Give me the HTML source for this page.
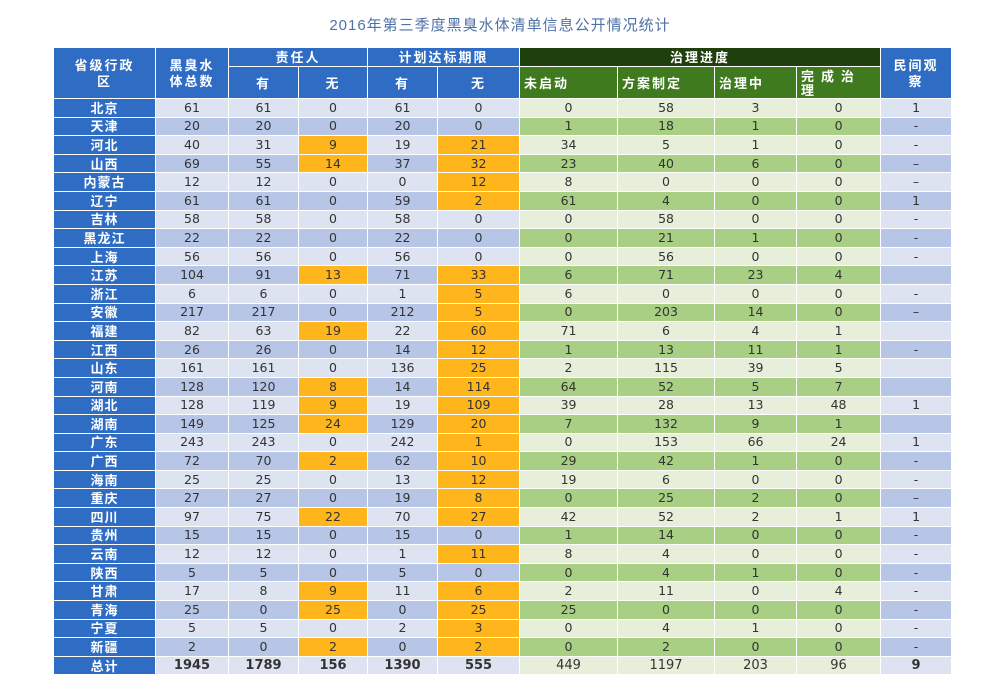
<!DOCTYPE html>
<html><head><meta charset="utf-8">
<style>
body{margin:0;width:1000px;height:700px;background:#fff;overflow:hidden;font-family:"DejaVu Sans","Noto Sans CJK SC",sans-serif;}
.title{position:absolute;left:0;width:1000px;top:14px;text-align:center;font-size:15px;color:#4f72a6;letter-spacing:1px;font-family:"Liberation Sans","Noto Sans CJK SC",sans-serif;}
table{position:absolute;left:53px;top:47px;border-collapse:collapse;table-layout:fixed;width:898px;}
td{border:1px solid #fff;text-align:center;font-size:12.5px;color:#333;padding:0;height:17.6px;line-height:14px;overflow:hidden;white-space:nowrap;}
.h td{color:#fff;font-weight:bold;font-family:"Noto Sans CJK SC",sans-serif;font-size:13px;letter-spacing:2px;}
.hb{background:#2f6dc5;}
.hg1{background:#1f3f0c;}
.hg2{background:#3f7a1e;text-align:left;padding-left:4px !important;}
td.p{background:#2f6dc5;color:#fff;font-weight:bold;font-family:"Noto Sans CJK SC",sans-serif;font-size:13px;letter-spacing:1px;}
tr.l td{background:#dde3f1;}
tr.d td{background:#b7c5e6;}
tr.l td.g{background:#e7efdb;}
tr.d td.g{background:#a8cf84;}
tr td.o{background:#ffb61c;}
tr td.p{background:#2f6dc5;}
tr.t td{font-weight:bold;font-size:13px;}
</style></head><body>
<div class="title">2016年第三季度黑臭水体清单信息公开情况统计</div>
<table>
<colgroup><col style="width:102px"><col style="width:73px"><col style="width:70px"><col style="width:69px"><col style="width:70px"><col style="width:82px"><col style="width:98px"><col style="width:97px"><col style="width:82px"><col style="width:84px"><col style="width:71px"></colgroup>
<tr class="h" style="height:19px"><td class="hb" rowspan="2" style="line-height:16px">省级行政<br>区</td><td class="hb" rowspan="2" style="line-height:16px">黑臭水<br>体总数</td><td class="hb" colspan="2">责任人</td><td class="hb" colspan="2">计划达标期限</td><td class="hg1" colspan="4">治理进度</td><td class="hb" rowspan="2" style="line-height:16px">民间观<br>察</td></tr>
<tr class="h" style="height:32px"><td class="hb">有</td><td class="hb">无</td><td class="hb">有</td><td class="hb">无</td><td class="hg2">未启动</td><td class="hg2">方案制定</td><td class="hg2">治理中</td><td class="hg2" style="line-height:14px">完 成 治<br>理</td></tr>
<tr class="l"><td class="p">北京</td><td>61</td><td>61</td><td>0</td><td>61</td><td>0</td><td class="g">0</td><td class="g">58</td><td class="g">3</td><td class="g">0</td><td>1</td></tr>
<tr class="d"><td class="p">天津</td><td>20</td><td>20</td><td>0</td><td>20</td><td>0</td><td class="g">1</td><td class="g">18</td><td class="g">1</td><td class="g">0</td><td>-</td></tr>
<tr class="l"><td class="p">河北</td><td>40</td><td>31</td><td class="o">9</td><td>19</td><td class="o">21</td><td class="g">34</td><td class="g">5</td><td class="g">1</td><td class="g">0</td><td>-</td></tr>
<tr class="d"><td class="p">山西</td><td>69</td><td>55</td><td class="o">14</td><td>37</td><td class="o">32</td><td class="g">23</td><td class="g">40</td><td class="g">6</td><td class="g">0</td><td>–</td></tr>
<tr class="l"><td class="p">内蒙古</td><td>12</td><td>12</td><td>0</td><td>0</td><td class="o">12</td><td class="g">8</td><td class="g">0</td><td class="g">0</td><td class="g">0</td><td>–</td></tr>
<tr class="d"><td class="p">辽宁</td><td>61</td><td>61</td><td>0</td><td>59</td><td class="o">2</td><td class="g">61</td><td class="g">4</td><td class="g">0</td><td class="g">0</td><td>1</td></tr>
<tr class="l"><td class="p">吉林</td><td>58</td><td>58</td><td>0</td><td>58</td><td>0</td><td class="g">0</td><td class="g">58</td><td class="g">0</td><td class="g">0</td><td>-</td></tr>
<tr class="d"><td class="p">黑龙江</td><td>22</td><td>22</td><td>0</td><td>22</td><td>0</td><td class="g">0</td><td class="g">21</td><td class="g">1</td><td class="g">0</td><td>-</td></tr>
<tr class="l"><td class="p">上海</td><td>56</td><td>56</td><td>0</td><td>56</td><td>0</td><td class="g">0</td><td class="g">56</td><td class="g">0</td><td class="g">0</td><td>-</td></tr>
<tr class="d"><td class="p">江苏</td><td>104</td><td>91</td><td class="o">13</td><td>71</td><td class="o">33</td><td class="g">6</td><td class="g">71</td><td class="g">23</td><td class="g">4</td><td></td></tr>
<tr class="l"><td class="p">浙江</td><td>6</td><td>6</td><td>0</td><td>1</td><td class="o">5</td><td class="g">6</td><td class="g">0</td><td class="g">0</td><td class="g">0</td><td>-</td></tr>
<tr class="d"><td class="p">安徽</td><td>217</td><td>217</td><td>0</td><td>212</td><td class="o">5</td><td class="g">0</td><td class="g">203</td><td class="g">14</td><td class="g">0</td><td>–</td></tr>
<tr class="l"><td class="p">福建</td><td>82</td><td>63</td><td class="o">19</td><td>22</td><td class="o">60</td><td class="g">71</td><td class="g">6</td><td class="g">4</td><td class="g">1</td><td></td></tr>
<tr class="d"><td class="p">江西</td><td>26</td><td>26</td><td>0</td><td>14</td><td class="o">12</td><td class="g">1</td><td class="g">13</td><td class="g">11</td><td class="g">1</td><td>-</td></tr>
<tr class="l"><td class="p">山东</td><td>161</td><td>161</td><td>0</td><td>136</td><td class="o">25</td><td class="g">2</td><td class="g">115</td><td class="g">39</td><td class="g">5</td><td></td></tr>
<tr class="d"><td class="p">河南</td><td>128</td><td>120</td><td class="o">8</td><td>14</td><td class="o">114</td><td class="g">64</td><td class="g">52</td><td class="g">5</td><td class="g">7</td><td></td></tr>
<tr class="l"><td class="p">湖北</td><td>128</td><td>119</td><td class="o">9</td><td>19</td><td class="o">109</td><td class="g">39</td><td class="g">28</td><td class="g">13</td><td class="g">48</td><td>1</td></tr>
<tr class="d"><td class="p">湖南</td><td>149</td><td>125</td><td class="o">24</td><td>129</td><td class="o">20</td><td class="g">7</td><td class="g">132</td><td class="g">9</td><td class="g">1</td><td></td></tr>
<tr class="l"><td class="p">广东</td><td>243</td><td>243</td><td>0</td><td>242</td><td class="o">1</td><td class="g">0</td><td class="g">153</td><td class="g">66</td><td class="g">24</td><td>1</td></tr>
<tr class="d"><td class="p">广西</td><td>72</td><td>70</td><td class="o">2</td><td>62</td><td class="o">10</td><td class="g">29</td><td class="g">42</td><td class="g">1</td><td class="g">0</td><td>-</td></tr>
<tr class="l"><td class="p">海南</td><td>25</td><td>25</td><td>0</td><td>13</td><td class="o">12</td><td class="g">19</td><td class="g">6</td><td class="g">0</td><td class="g">0</td><td>-</td></tr>
<tr class="d"><td class="p">重庆</td><td>27</td><td>27</td><td>0</td><td>19</td><td class="o">8</td><td class="g">0</td><td class="g">25</td><td class="g">2</td><td class="g">0</td><td>–</td></tr>
<tr class="l"><td class="p">四川</td><td>97</td><td>75</td><td class="o">22</td><td>70</td><td class="o">27</td><td class="g">42</td><td class="g">52</td><td class="g">2</td><td class="g">1</td><td>1</td></tr>
<tr class="d"><td class="p">贵州</td><td>15</td><td>15</td><td>0</td><td>15</td><td>0</td><td class="g">1</td><td class="g">14</td><td class="g">0</td><td class="g">0</td><td>-</td></tr>
<tr class="l"><td class="p">云南</td><td>12</td><td>12</td><td>0</td><td>1</td><td class="o">11</td><td class="g">8</td><td class="g">4</td><td class="g">0</td><td class="g">0</td><td>-</td></tr>
<tr class="d"><td class="p">陕西</td><td>5</td><td>5</td><td>0</td><td>5</td><td>0</td><td class="g">0</td><td class="g">4</td><td class="g">1</td><td class="g">0</td><td>-</td></tr>
<tr class="l"><td class="p">甘肃</td><td>17</td><td>8</td><td class="o">9</td><td>11</td><td class="o">6</td><td class="g">2</td><td class="g">11</td><td class="g">0</td><td class="g">4</td><td>-</td></tr>
<tr class="d"><td class="p">青海</td><td>25</td><td>0</td><td class="o">25</td><td>0</td><td class="o">25</td><td class="g">25</td><td class="g">0</td><td class="g">0</td><td class="g">0</td><td>-</td></tr>
<tr class="l"><td class="p">宁夏</td><td>5</td><td>5</td><td>0</td><td>2</td><td class="o">3</td><td class="g">0</td><td class="g">4</td><td class="g">1</td><td class="g">0</td><td>-</td></tr>
<tr class="d"><td class="p">新疆</td><td>2</td><td>0</td><td class="o">2</td><td>0</td><td class="o">2</td><td class="g">0</td><td class="g">2</td><td class="g">0</td><td class="g">0</td><td>-</td></tr>
<tr class="l t"><td class="p">总计</td><td>1945</td><td>1789</td><td>156</td><td>1390</td><td>555</td><td class="g" style="font-weight:normal">449</td><td class="g" style="font-weight:normal">1197</td><td class="g" style="font-weight:normal">203</td><td class="g" style="font-weight:normal">96</td><td>9</td></tr>
</table>
</body></html>
